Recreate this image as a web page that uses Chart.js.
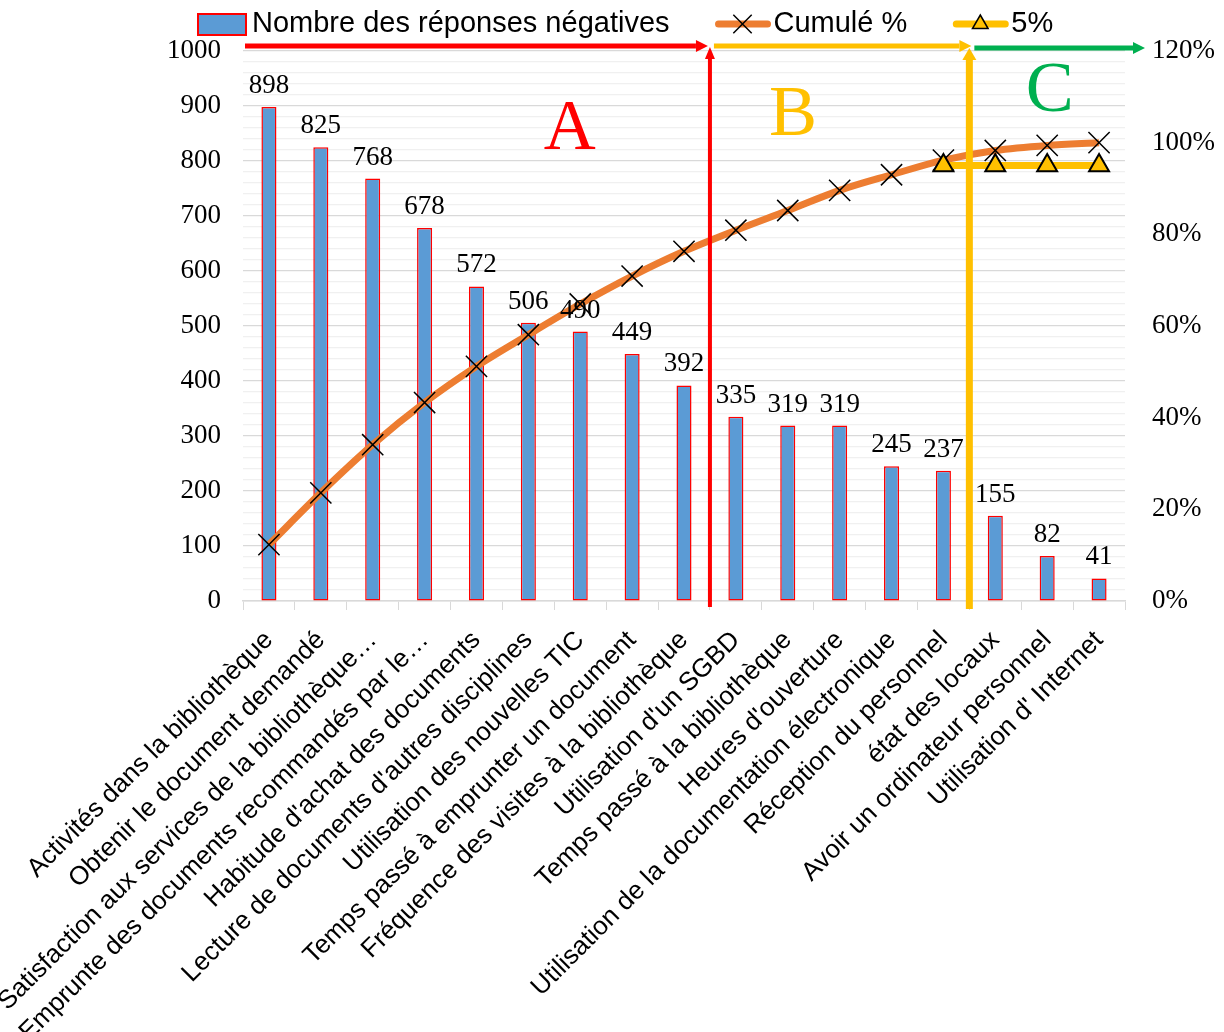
<!DOCTYPE html>
<html lang="fr">
<head>
<meta charset="utf-8">
<title>Réponses négatives – diagramme de Pareto</title>
<script src="https://cdn.jsdelivr.net/npm/chart.js@4.4.1/dist/chart.umd.min.js"></script>
<style>
  html, body { margin: 0; padding: 0; background: #ffffff; }
  #wrap { width: 1224px; height: 1032px; position: relative; }
</style>
</head>
<body>
<div id="wrap"><canvas id="pareto"></canvas></div>
<script>
// ---- data -------------------------------------------------------------
const categories = [
  "Activités dans la bibliothèque",
  "Obtenir le document demandé",
  "Satisfaction aux services de la bibliothèque…",
  "Emprunte des documents recommandés par le…",
  "Habitude d'achat des documents",
  "Lecture de documents d'autres disciplines",
  "Utilisation des nouvelles TIC",
  "Temps passé à emprunter un document",
  "Fréquence des visites à la bibliothèque",
  "Utilisation d'un SGBD",
  "Temps passé à la bibliothèque",
  "Heures d'ouverture",
  "Utilisation de la documentation électronique",
  "Réception du personnel",
  "état des locaux",
  "Avoir un ordinateur personnel",
  "Utilisation d' Internet"
];
const negativeCounts = [898, 825, 768, 678, 572, 506, 490, 449, 392, 335, 319, 319, 245, 237, 155, 82, 41];
const cumulativePct = [12.3, 23.6, 34.1, 43.3, 51.2, 58.1, 64.8, 70.9, 76.3, 80.9, 85.2, 89.6, 93.0, 96.2, 98.3, 99.4, 100];
const thresholdPct = [null, null, null, null, null, null, null, null, null, null, null, null, null, 95, 95, 95, 95];
const seriesNames = ["Nombre des réponses négatives", "Cumulé %", "5%"];
const countTicks = [0, 100, 200, 300, 400, 500, 600, 700, 800, 900, 1000];
const pctTicks = [0, 20, 40, 60, 80, 100, 120];
// zones of the Pareto analysis: name and last category index of each zone
const zoneNames = ["A", "B", "C"];
const zoneLastIndex = [8, 13, 16];

// ---- styles -----------------------------------------------------------
const BAR_BLUE = "#5B9BD5";
const RED = "#FF0000";
const ORANGE = "#ED7D31";
const GOLD = "#FFC000";
const GREEN = "#00B050";
const SERIF = '"Liberation Serif", "Times New Roman", serif';
const SANS = '"Liberation Sans", Arial, sans-serif';

// values written above the bars
const barValueLabels = {
  id: "barValueLabels",
  afterDatasetsDraw(chart) {
    const ctx = chart.ctx;
    const meta = chart.getDatasetMeta(0);
    ctx.save();
    ctx.font = "27px " + SERIF;
    ctx.fillStyle = "#000";
    ctx.textAlign = "center";
    ctx.textBaseline = "alphabetic";
    meta.data.forEach((bar, i) => {
      ctx.fillText(String(chart.data.datasets[0].data[i]), bar.x, bar.y - 14);
    });
    ctx.restore();
  }
};

function arrow(ctx, x1, y1, x2, y2, color, width, half, len) {
  const a = Math.atan2(y2 - y1, x2 - x1);
  const bx = x2 - Math.cos(a) * len, by = y2 - Math.sin(a) * len;
  ctx.strokeStyle = color;
  ctx.fillStyle = color;
  ctx.lineWidth = width;
  ctx.lineCap = "butt";
  ctx.beginPath();
  ctx.moveTo(x1, y1);
  ctx.lineTo(bx, by);
  ctx.stroke();
  ctx.beginPath();
  ctx.moveTo(x2, y2);
  ctx.lineTo(bx - Math.sin(a) * half, by + Math.cos(a) * half);
  ctx.lineTo(bx + Math.sin(a) * half, by - Math.cos(a) * half);
  ctx.closePath();
  ctx.fill();
}

// zone separators, arrows and zone letters
const paretoZones = {
  id: "paretoZones",
  afterDatasetsDraw(chart) {
    const ctx = chart.ctx;
    const x = chart.scales.x, y = chart.scales.y;
    const area = chart.chartArea;
    const edge = (i) => (x.getPixelForValue(i) + x.getPixelForValue(i + 1)) / 2;
    const xA = edge(zoneLastIndex[0]);
    const xB = edge(zoneLastIndex[1]);
    const top = area.top - 5;
    ctx.save();
    arrow(ctx, area.left + 2, top, xA - 2, top, RED, 5, 6, 12);
    arrow(ctx, xA, area.bottom + 6, xA, top + 1, RED, 4, 5, 12);
    arrow(ctx, xA + 4, top, xB + 2, top, GOLD, 5, 6, 12);
    arrow(ctx, xB, area.bottom + 8, xB, top + 2, GOLD, 7, 7, 12);
    arrow(ctx, xB + 5, top + 2, area.right + 20, top + 2, GREEN, 5, 6, 12);

    ctx.font = "72px " + SERIF;
    ctx.textAlign = "center";
    ctx.textBaseline = "middle";
    const letters = [
      { c: RED, i: 5.8, v: 856 },
      { c: GOLD, i: 10.1, v: 882 },
      { c: GREEN, i: 15.05, v: 925 }
    ];
    letters.forEach((l, k) => {
      ctx.fillStyle = l.c;
      ctx.fillText(zoneNames[k], x.getPixelForValue(l.i), y.getPixelForValue(l.v));
    });
    ctx.restore();
  }
};

// legend across the top
const topLegend = {
  id: "topLegend",
  afterDraw(chart) {
    const ctx = chart.ctx;
    const ds = chart.data.datasets;
    const cy = 24;
    ctx.save();
    ctx.font = "29px " + SANS;
    ctx.textBaseline = "middle";
    ctx.textAlign = "left";
    let x = 198;
    // bar swatch
    ctx.fillStyle = BAR_BLUE;
    ctx.fillRect(x, cy - 10, 48, 21);
    ctx.strokeStyle = RED;
    ctx.lineWidth = 2;
    ctx.strokeRect(x, cy - 10, 48, 21);
    x += 54;
    ctx.fillStyle = "#000";
    ctx.fillText(ds[0].label, x, cy);
    x += ctx.measureText(ds[0].label).width + 45;
    // line swatches with markers
    [1, 2].forEach((k) => {
      const d = ds[k];
      ctx.strokeStyle = d.borderColor;
      ctx.lineWidth = 7;
      ctx.lineCap = "round";
      ctx.beginPath();
      ctx.moveTo(x + 4, cy);
      ctx.lineTo(x + 53, cy);
      ctx.stroke();
      ctx.fillStyle = d.pointBackgroundColor;
      ctx.strokeStyle = d.pointBorderColor;
      ctx.lineWidth = 1.5;
      ctx.lineCap = "butt";
      Chart.helpers.drawPoint(ctx, {
        pointStyle: d.pointStyle,
        radius: k === 1 ? 13 : 9,
        rotation: 0,
        borderWidth: 1.5
      }, x + 28, cy);
      x += 59;
      ctx.fillStyle = "#000";
      ctx.fillText(d.label, x, cy);
      x += ctx.measureText(d.label).width + 45;
    });
    ctx.restore();
  }
};

const minorGrid = (c) => (c.tick && c.tick.value % 100 === 0) ? "#d9d9d9" : "#f0f0f0";

new Chart(document.getElementById("pareto"), {
  data: {
    labels: categories,
    datasets: [
      {
        type: "bar",
        label: seriesNames[0],
        data: negativeCounts,
        yAxisID: "y",
        backgroundColor: BAR_BLUE,
        borderColor: RED,
        borderWidth: 1.5,
        borderSkipped: false,
        barPercentage: 0.29,
        categoryPercentage: 1,
        order: 3
      },
      {
        type: "line",
        label: seriesNames[1],
        data: cumulativePct,
        yAxisID: "y1",
        borderColor: ORANGE,
        borderWidth: 7,
        cubicInterpolationMode: "monotone",
        pointStyle: "crossRot",
        pointRadius: 15,
        pointBorderColor: "#000",
        pointBackgroundColor: "#000",
        pointBorderWidth: 1.5,
        order: 2
      },
      {
        type: "line",
        label: seriesNames[2],
        data: thresholdPct,
        yAxisID: "y1",
        borderColor: GOLD,
        borderWidth: 7,
        pointStyle: "triangle",
        pointRadius: 11.5,
        pointBorderColor: "#000",
        pointBackgroundColor: GOLD,
        pointBorderWidth: 2,
        order: 1
      }
    ]
  },
  options: {
    responsive: true,
    maintainAspectRatio: false,
    devicePixelRatio: 1,
    animation: false,
    layout: { padding: { top: 51, left: 0, right: 0, bottom: 0 } },
    plugins: {
      legend: { display: false },
      tooltip: { enabled: false }
    },
    scales: {
      x: {
        offset: true,
        grid: { display: true, drawOnChartArea: false, drawTicks: true, tickLength: 9, color: "#d9d9d9", offset: true },
        border: { color: "#d9d9d9", width: 1.5 },
        ticks: {
          autoSkip: false,
          maxRotation: 45,
          minRotation: 45,
          padding: 15,
          color: "#000",
          font: { family: SANS, size: 26 }
        },
        afterFit(s) { s.height = 431; s.paddingLeft = 0; s.paddingRight = 0; }
      },
      y: {
        position: "left",
        min: countTicks[0],
        max: countTicks[countTicks.length - 1],
        ticks: {
          stepSize: 20,
          autoSkip: false,
          padding: 22,
          color: "#000",
          font: { family: SERIF, size: 27 },
          callback: (v) => countTicks.includes(v) ? String(v) : ""
        },
        grid: { color: minorGrid, drawTicks: false, lineWidth: 1.2 },
        border: { display: false },
        afterFit(s) { s.width = 243; }
      },
      y1: {
        position: "right",
        min: pctTicks[0],
        max: pctTicks[pctTicks.length - 1],
        ticks: {
          stepSize: 20,
          padding: 27,
          color: "#000",
          font: { family: SERIF, size: 27 },
          callback: (v) => pctTicks.includes(v) ? v + "%" : ""
        },
        grid: { drawOnChartArea: false, drawTicks: false },
        border: { display: false },
        afterFit(s) { s.width = 99; }
      }
    }
  },
  plugins: [barValueLabels, paretoZones, topLegend]
});
</script>
</body>
</html>
